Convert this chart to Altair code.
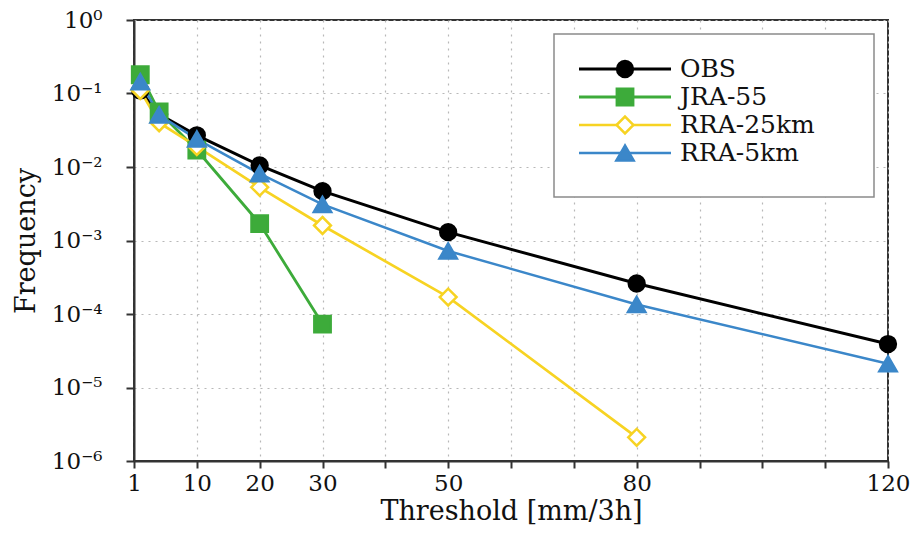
import altair as alt
import pandas as pd

# ---- data ----
series_names = ["OBS", "JRA-55", "RRA-25km", "RRA-5km"]
series_colors = ["#000000", "#3dab3a", "#f7d322", "#3b87c9"]
series_fills = ["#000000", "#3dab3a", "#ffffff", "#3b87c9"]
series_shapes = ["circle", "square", "diamond", "triangle-up"]
series_sizes = [250, 300, 170, 170]
series_widths = [3, 2.5, 2.5, 2.5]

thresholds = [1, 4, 10, 20, 30, 50, 80, 120]
obs = [0.11, 0.052, 0.027, 0.0105, 0.0047, 0.0013, 0.00026, 0.000039]
jra55 = [0.18, 0.056, 0.017, 0.0017, 0.000073]
rra25 = [0.11, 0.04, 0.019, 0.0053, 0.0016, 0.00017, 0.0000021]
rra5 = [0.145, 0.051, 0.024, 0.0081, 0.0031, 0.00072, 0.000135, 0.000021]

x_tick_values = [0, 10, 20, 30, 40, 50, 60, 70, 80, 90, 100, 110, 120]
x_labelled = [10, 20, 30, 50, 80, 120]
y_tick_values = [1, 0.1, 0.01, 0.001, 0.0001, 0.00001, 0.000001]
y_tick_labels = ["10⁰", "10⁻¹", "10⁻²", "10⁻³", "10⁻⁴", "10⁻⁵", "10⁻⁶"]

rows = []
for name, vals in zip(series_names, [obs, jra55, rra25, rra5]):
    for t, v in zip(thresholds, vals):
        rows.append({"series": name, "threshold": t, "freq": v})
df = pd.DataFrame(rows)
legend_df = pd.DataFrame({"series": series_names})

FONT = "DejaVu Serif"
W, H = 754, 441

color_scale = alt.Scale(domain=series_names, range=series_colors)
fill_scale = alt.Scale(domain=series_names, range=series_fills)
shape_scale = alt.Scale(domain=series_names, range=series_shapes)
size_scale = alt.Scale(domain=series_names, range=series_sizes)
width_scale = alt.Scale(domain=series_names, range=series_widths)

x_label_expr = ("datum.value == 0 ? '1' : (indexof(%s, datum.value) >= 0 ? datum.label : '')"
                % str(x_labelled))
y_label_expr = "%s[round(-log(datum.value)/LN10)]" % str(y_tick_labels).replace('"', "'")

x_enc = alt.X(
    "threshold:Q",
    scale=alt.Scale(domain=[0, 120], nice=False, zero=False),
    axis=alt.Axis(
        values=x_tick_values, labelExpr=x_label_expr, title="Threshold [mm/3h]",
        tickSize=7, labelPadding=4, titleY=58, titleBaseline="alphabetic",
        labelFlush=False, labelOverlap=False,
    ),
)
y_enc = alt.Y(
    "freq:Q",
    scale=alt.Scale(type="log", domain=[1e-6, 1], nice=False),
    axis=alt.Axis(
        values=y_tick_values, labelExpr=y_label_expr, title="Frequency",
        tickSize=8, labelPadding=24, titleX=-100, titleY=H / 2,
        titleAngle=-90, titleAlign="center", titleBaseline="alphabetic",
        labelFlush=False, labelOverlap=False,
    ),
)

base = alt.Chart(df).encode(
    x=x_enc, y=y_enc,
    color=alt.Color("series:N", scale=color_scale, legend=None),
)
lines = base.mark_line().encode(
    strokeWidth=alt.StrokeWidth("series:N", scale=width_scale, legend=None),
    detail="series:N",
)
points = base.mark_point(opacity=1, strokeWidth=2.5).encode(
    shape=alt.Shape("series:N", scale=shape_scale, legend=None),
    fill=alt.Fill("series:N", scale=fill_scale, legend=None),
    size=alt.Size("series:N", scale=size_scale, legend=None),
)
main = alt.layer(lines, points)

# ---- legend box built from the same series list ----
ly = alt.Y("series:N", scale=alt.Scale(domain=series_names, range=[35, 147]), axis=None)
leg_box = alt.Chart(alt.Data(values=[{}])).mark_rect(
    fill="white", stroke="#8a8a8a", strokeWidth=1.5
).encode(x=alt.value(420), x2=alt.value(740), y=alt.value(14), y2=alt.value(177))
leg_lines = alt.Chart(legend_df).mark_rule().encode(
    x=alt.value(445), x2=alt.value(537), y=ly,
    color=alt.Color("series:N", scale=color_scale, legend=None),
    strokeWidth=alt.StrokeWidth("series:N", scale=width_scale, legend=None),
)
leg_points = alt.Chart(legend_df).mark_point(opacity=1, strokeWidth=2.5).encode(
    x=alt.value(491), y=ly,
    color=alt.Color("series:N", scale=color_scale, legend=None),
    shape=alt.Shape("series:N", scale=shape_scale, legend=None),
    fill=alt.Fill("series:N", scale=fill_scale, legend=None),
    size=alt.Size("series:N", scale=size_scale, legend=None),
)
leg_text = alt.Chart(legend_df).mark_text(
    align="left", baseline="middle", font=FONT, fontSize=25, color="#111"
).encode(x=alt.value(546), y=ly, text="series:N")

chart = alt.layer(main, leg_box, leg_lines, leg_points, leg_text).resolve_scale(
    y="independent"
).properties(
    width=W, height=H,
    autosize=alt.AutoSizeParams(type="none"),
    padding={"left": 126, "top": 12, "right": 22, "bottom": 66},
).configure_view(
    stroke="#333", strokeWidth=2
).configure_axis(
    labelFont=FONT, labelFontSize=23, labelColor="#111",
    titleFont=FONT, titleFontSize=27, titleColor="#111", titleFontWeight="normal",
    domainColor="#333", domainWidth=2, tickColor="#333", tickWidth=2,
    gridColor="#b8b8b8", gridDash=[2, 5], gridWidth=1.2,
)

chart.save("out.html", embed_options={"renderer": "svg", "actions": False})
